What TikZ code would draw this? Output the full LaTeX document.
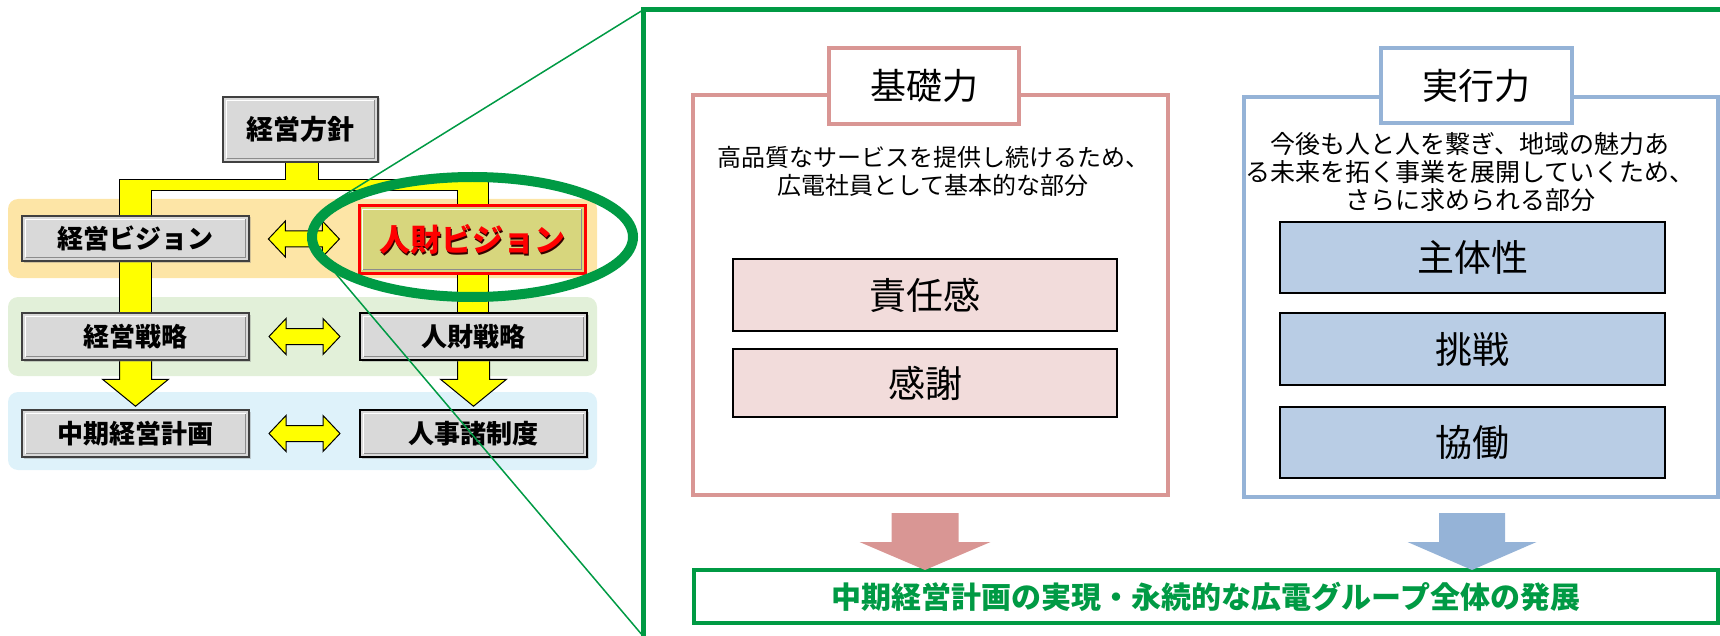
\documentclass[tikz,border=0pt]{standalone}
\usepackage{fontspec}
\setmainfont{Noto Sans CJK JP}
\usetikzlibrary{calc,shapes.geometric,shadows}
\definecolor{boxgray}{HTML}{D9D9D9}
\definecolor{bandorange}{HTML}{FDE5A6}
\definecolor{bandgreen}{HTML}{E2F0D9}
\definecolor{bandblue}{HTML}{DEF2FA}
\definecolor{olive}{HTML}{D7D67D}
\definecolor{hgreen}{HTML}{009A44}
\definecolor{pinkline}{HTML}{D99694}
\definecolor{pinkfill}{HTML}{F2DCDB}
\definecolor{blueline}{HTML}{95B3D7}
\definecolor{bluefill}{HTML}{B9CDE5}
\definecolor{yel}{HTML}{FFFF00}
\pgfdeclarelayer{bgzero}
\pgfdeclarelayer{bgone}
\pgfdeclarelayer{topl}
\pgfsetlayers{bgzero,bgone,main,topl}
\tikzset{
  bevel/.style={path picture={
    \draw[white,line width=1.5pt] ($(path picture bounding box.south west)+(3.5pt,3.5pt)$) |- ($(path picture bounding box.north east)+(-3.5pt,-3.5pt)$);
    \draw[black!45,line width=1.5pt] ($(path picture bounding box.south west)+(3.5pt,3.5pt)$) -| ($(path picture bounding box.north east)+(-3.5pt,-3.5pt)$);
  }},
  gbox/.style={draw=black!75, line width=2.5pt, fill=boxgray, inner sep=0pt, bevel,
    drop shadow={shadow xshift=1.5pt, shadow yshift=-1.5pt, opacity=0.35},
    font=\fontsize{26}{30}\selectfont\bfseries},
  kbox/.style={gbox, draw=black},
  band/.style={rounded corners=10pt, draw=none},
  yfill/.style={fill=yel, draw=black, line width=1pt, line join=miter},
  panel/.style={fill=white, line width=4.5pt, inner sep=0pt},
  ttl/.style={fill=white, line width=4.5pt, inner sep=0pt, font=\fontsize{36}{40}\selectfont},
  desc/.style={align=center, inner sep=0pt, font=\fontsize{24}{28}\selectfont},
  item/.style={draw=black, line width=1.5pt, inner sep=0pt, font=\fontsize{37}{40}\selectfont},
}
\newcommand\dbla[1]{\draw[yfill] ($(#1)+(-35.5,0)$) -- ++(17,-18) -- ++(0,10) -- ++(37,0) -- ++(0,-10) -- ++(17,18) -- ++(-17,18) -- ++(0,-10) -- ++(-37,0) -- ++(0,10) -- cycle;}
\newcommand\ydown[1]{\draw[yfill] ($(#1)+(-16,-2)$) -- ++(0,20) -- ++(-17,0) -- ++(33,27) -- ++(33,-27) -- ++(-17,0) -- ++(0,-20) -- cycle;}
\begin{document}
\begin{tikzpicture}[x=1pt,y=-1pt]
\useasboundingbox (0,0) rectangle (1720,636);

% ---------- left panel ----------
\begin{pgfonlayer}{bgzero}
\fill[band, bandorange] (8,199) rectangle (597,278);
\fill[band, bandgreen] (8,297) rectangle (597,376);
\fill[band, bandblue] (8,392) rectangle (597,470);
\end{pgfonlayer}

\node[gbox, minimum width=155, minimum height=65, font=\fontsize{27}{30}\selectfont\bfseries] (hoshin) at (300.5,129.5) {経営方針};
\node[gbox, minimum width=227, minimum height=45] (kvis) at (135.5,238.5) {経営ビジョン};
\node[draw=red, line width=3pt, fill=olive, inner sep=0pt, bevel, minimum width=226, minimum height=67,
  drop shadow={shadow xshift=1.5pt, shadow yshift=-1.5pt, opacity=0.35}] (jvis) at (472,239.5) {};
\node[font=\fontsize{31}{36}\selectfont\bfseries, text=black!80!red] at ($(jvis.center)+(1.8,1.8)$) {人財ビジョン};
\node[font=\fontsize{31}{36}\selectfont\bfseries, text=red] (jvist) at (jvis.center) {人財ビジョン};
\node[gbox, minimum width=227, minimum height=47] (ksen) at (135.5,336.5) {経営戦略};
\node[kbox, minimum width=227, minimum height=47] (jsen) at (473.5,336.5) {人財戦略};
\node[gbox, minimum width=227, minimum height=47] (kkei) at (135.5,433.5) {中期経営計画};
\node[kbox, minimum width=227, minimum height=47] (jsei) at (473.5,433.5) {人事諸制度};

\begin{pgfonlayer}{bgone}
\draw[yfill] (285,160) -- (285,180) -- (119.5,180) -- (119.5,314) -- (151.5,314) -- (151.5,191)
  -- (457,191) -- (457,314) -- (488,314) -- (488,180) -- (318,180) -- (318,160) -- cycle;
\ydown{ksen.south}
\ydown{jsen.south}
\end{pgfonlayer}

\coordinate (m1) at ($(kvis.east)!0.5!(jvis.west)$);
\coordinate (m2) at ($(ksen.east)!0.5!(jsen.west)$);
\coordinate (m3) at ($(kkei.east)!0.5!(jsei.west)$);
\dbla{m1}
\dbla{m2}
\dbla{m3}

% ---------- right panel ----------
\node[panel, draw=pinkline, minimum width=475, minimum height=400] (kisoP) at (930.5,295) {};
\node[ttl, draw=pinkline, minimum width=190, minimum height=76] (kisoT) at (924,86) {基礎力};
\node[desc] (kisoD) at (933,171) {高品質なサービスを提供し続けるため、\\広電社員として基本的な部分};
\node[item, fill=pinkfill, minimum width=384, minimum height=72] (sekinin) at (925,295) {責任感};
\node[item, fill=pinkfill, minimum width=384, minimum height=68] (kansha) at (925,383) {感謝};

\node[panel, draw=blueline, minimum width=474, minimum height=400] (jikkoP) at (1481,297) {};
\node[ttl, draw=blueline, minimum width=191, minimum height=75] (jikkoT) at (1476.5,85.5) {実行力};
\node[desc, font=\fontsize{25}{28}\selectfont] (jikkoD) at (1470,172) {今後も人と人を繋ぎ、地域の魅力あ\\る未来を拓く事業を展開していくため、\\さらに求められる部分};
\node[item, fill=bluefill, minimum width=385, minimum height=71] (shutai) at (1472.5,257.5) {主体性};
\node[item, fill=bluefill, minimum width=385, minimum height=72] (chosen) at (1472.5,349) {挑戦};
\node[item, fill=bluefill, minimum width=385, minimum height=71] (kyodo) at (1472.5,442.5) {協働};

\node[draw=hgreen, line width=4pt, fill=white, minimum width=1024, minimum height=53, inner sep=0pt,
  font=\fontsize{30}{34}\selectfont\bfseries, text=hgreen] (goal) at (1206,596.5) {中期経営計画の実現・永続的な広電グループ全体の発展};

\coordinate (pa) at (925,513);
\coordinate (pb) at (1472,513);
\fill[pinkline] ($(pa)+(-33.5,0)$) -- ++(0,29) -- ++(-32,0) -- ++(65.5,28) -- ++(65.5,-28) -- ++(-32,0) -- ++(0,-29) -- cycle;
\fill[blueline] ($(pb)+(-33,0)$) -- ++(0,29) -- ++(-31.5,0) -- ++(64.5,28) -- ++(64.5,-28) -- ++(-31.5,0) -- ++(0,-29) -- cycle;

% ---------- frame, zoom lines, ellipse ----------
\coordinate (ftl) at (643,10);
\coordinate (fbl) at (643,640);
\coordinate (ftr) at (1730,10);
\draw[hgreen, line width=5pt] (fbl) -- (ftl) -- (ftr);

\begin{pgfonlayer}{topl}
\node[ellipse, draw=hgreen, line width=10pt, minimum width=321, minimum height=120, inner sep=0pt] (ell) at (472.5,237) {};
\end{pgfonlayer}
\draw[hgreen, line width=1.5pt] (ell.165) -- (ftl);
\draw[hgreen, line width=1.5pt] (ell.195) -- (643,636);
\end{tikzpicture}
\end{document}
